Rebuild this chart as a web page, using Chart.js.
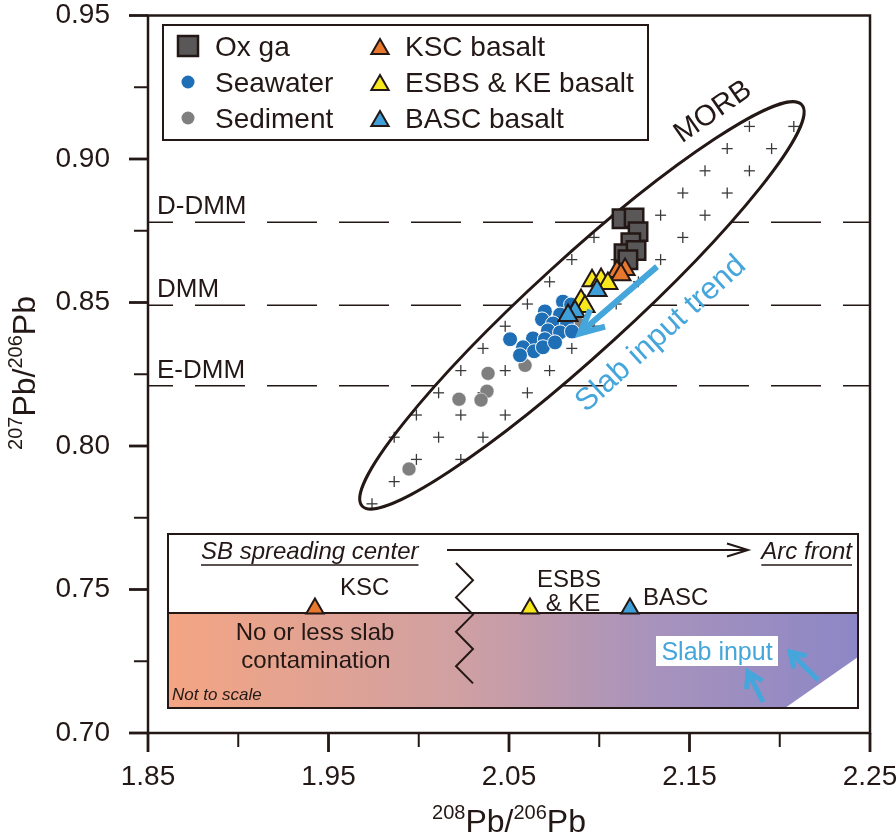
<!DOCTYPE html>
<html>
<head>
<meta charset="utf-8">
<script src="https://cdn.jsdelivr.net/npm/chart.js@4.4.0/dist/chart.umd.min.js"></script>
<style>
  html, body { margin: 0; padding: 0; background: #fff; }
  #wrap { width: 896px; height: 839px; position: relative; }
</style>
</head>
<body>
<div id="wrap"><canvas id="chart"></canvas></div>
<script>
// 208Pb/206Pb (x) and 207Pb/206Pb (y)
const oxgaX = [2.1126, 2.1193, 2.1215, 2.1175, 2.1137, 2.1204, 2.1159];
const oxgaY = [0.8792, 0.8795, 0.8747, 0.8708, 0.8670, 0.8681, 0.8649];

const seawaterX = [2.0799, 2.0844, 2.0699, 2.0783, 2.0683, 2.0744, 2.0821, 2.0716, 2.0783,
                   2.0849, 2.0633, 2.0699, 2.0506, 2.0578, 2.0639, 2.0561, 2.0688, 2.0755];
const seawaterY = [0.8503, 0.8493, 0.8469, 0.8458, 0.8441, 0.8427, 0.8424, 0.8403, 0.8396,
                   0.8399, 0.8375, 0.8372, 0.8372, 0.8344, 0.8330, 0.8316, 0.8344, 0.8361];

const sedimentX = [2.0882, 2.0589, 2.0384, 2.0378, 2.0345, 2.0223, 1.9946];
const sedimentY = [0.8427, 0.8281, 0.8253, 0.8191, 0.8160, 0.8163, 0.7920];

const kscX = [2.1098, 2.1143, 2.1120];
const kscY = [0.8608, 0.8615, 0.8597];

const esbsX = [2.0960, 2.1010, 2.1048, 2.0899, 2.0921];
const esbsY = [0.8576, 0.8580, 0.8566, 0.8507, 0.8486];

const bascX = [2.0988, 2.0866, 2.0827];
const bascY = [0.8542, 0.8469, 0.8455];

// mantle reference lines
const refNames = ['D-DMM', 'DMM', 'E-DMM'];
const refValues = [0.878, 0.849, 0.821];

// MORB field: centre, end of long axis, end of short axis
const morbCenter = [2.0904, 0.8490];
const morbMajorEnd = [2.2122, 0.9189];
const morbMinorEnd = [2.1081, 0.8369];
const morbCrossAnchor = [2.0356, 0.8340];

// slab input trend arrow (from, to)
const trendFrom = [2.1320, 0.8625];
const trendTo = [2.0893, 0.8392];

// schematic sites in the inset
const insetNames = ['KSC', 'ESBS & KE', 'BASC'];
const insetX = [1.9425, 2.0616, 2.1170];
const insetY = [0.7434, 0.7434, 0.7434];

const xTicks = ['1.85', '1.95', '2.05', '2.15', '2.25'];
const yTicks = ['0.70', '0.75', '0.80', '0.85', '0.90', '0.95'];

const INK = '#231815';
const FONT = '"Liberation Sans", Arial, sans-serif';
const ORANGE = '#E8782D';
const YELLOW = '#F6E81C';
const BLUE_T = '#3E9FD9';
const SLAB = '#45A6DB';

function pts(xs, ys) { return xs.map((x, i) => ({ x: x, y: ys[i] })); }

function line(ctx, x1, y1, x2, y2) {
  ctx.beginPath(); ctx.moveTo(x1, y1); ctx.lineTo(x2, y2); ctx.stroke();
}

function tri(ctx, x, y, r) {
  ctx.beginPath();
  ctx.moveTo(x, y - r);
  ctx.lineTo(x + r * 0.866, y + r / 2);
  ctx.lineTo(x - r * 0.866, y + r / 2);
  ctx.closePath();
}

function supText(ctx, parts, x, y, size) {
  const big = size + 'px ' + FONT, small = Math.round(size * 0.64) + 'px ' + FONT;
  let w = 0;
  parts.forEach(p => { ctx.font = p.sup ? small : big; w += ctx.measureText(p.t).width; });
  let cx = x - w / 2;
  ctx.textAlign = 'left';
  ctx.textBaseline = 'alphabetic';
  parts.forEach(p => {
    ctx.font = p.sup ? small : big;
    ctx.fillText(p.t, cx, p.sup ? y - size * 0.4 : y);
    cx += ctx.measureText(p.t).width;
  });
}

function arrowHead(ctx, x1, y1, x2, y2, len, ang) {
  const a = Math.atan2(y2 - y1, x2 - x1);
  ctx.beginPath();
  ctx.moveTo(x2 - len * Math.cos(a - ang), y2 - len * Math.sin(a - ang));
  ctx.lineTo(x2, y2);
  ctx.lineTo(x2 - len * Math.cos(a + ang), y2 - len * Math.sin(a + ang));
  ctx.stroke();
}

function noPad(s) {
  s.paddingLeft = 0; s.paddingRight = 0; s.paddingTop = 0; s.paddingBottom = 0;
}

const overlay = {
  id: 'overlay',
  beforeDatasetsDraw(chart) {
    const ctx = chart.ctx, xs = chart.scales.x, ys = chart.scales.y, area = chart.chartArea;
    ctx.save();

    // dashed mantle lines
    ctx.strokeStyle = INK; ctx.lineWidth = 1.5;
    ctx.setLineDash([50, 22]); ctx.lineDashOffset = 25;
    refValues.forEach(v => { const y = ys.getPixelForValue(v); line(ctx, area.left, y, area.right, y); });
    ctx.setLineDash([]);
    ctx.fillStyle = INK; ctx.font = '26px ' + FONT; ctx.textAlign = 'left'; ctx.textBaseline = 'alphabetic';
    refValues.forEach((v, i) => ctx.fillText(refNames[i], area.left + 9, ys.getPixelForValue(v) - 8));

    // MORB ellipse
    const cx = xs.getPixelForValue(morbCenter[0]), cy = ys.getPixelForValue(morbCenter[1]);
    const mx = xs.getPixelForValue(morbMajorEnd[0]), my = ys.getPixelForValue(morbMajorEnd[1]);
    const nx = xs.getPixelForValue(morbMinorEnd[0]), ny = ys.getPixelForValue(morbMinorEnd[1]);
    const a = Math.hypot(mx - cx, my - cy);
    const rot = Math.atan2(my - cy, mx - cx);
    const ux = (mx - cx) / a, uy = (my - cy) / a;
    const b = Math.abs((nx - cx) * -uy + (ny - cy) * ux);
    ctx.beginPath(); ctx.ellipse(cx, cy, a, b, rot, 0, Math.PI * 2);
    ctx.fillStyle = '#fff'; ctx.fill();

    // cross hatching of the field
    const ax = xs.getPixelForValue(morbCrossAnchor[0]), ay = ys.getPixelForValue(morbCrossAnchor[1]);
    const step = 22.2;
    ctx.strokeStyle = '#3a3a3a'; ctx.lineWidth = 1.3;
    for (let i = -25; i <= 25; i++) {
      for (let j = -25; j <= 25; j++) {
        if ((i + j) % 2 !== 0) continue;
        const px = ax + i * step, py = ay + j * step;
        const du = (px - cx) * Math.cos(rot) + (py - cy) * Math.sin(rot);
        const dv = -(px - cx) * Math.sin(rot) + (py - cy) * Math.cos(rot);
        if ((du / a) ** 2 + (dv / b) ** 2 > 0.99) continue;
        line(ctx, px - 5.5, py, px + 5.5, py);
        line(ctx, px, py - 5.5, px, py + 5.5);
      }
    }
    ctx.beginPath(); ctx.ellipse(cx, cy, a, b, rot, 0, Math.PI * 2);
    ctx.strokeStyle = INK; ctx.lineWidth = 3; ctx.stroke();

    ctx.save();
    ctx.translate(713, 112); ctx.rotate(-35 * Math.PI / 180);
    ctx.fillStyle = INK; ctx.font = '29px ' + FONT; ctx.textAlign = 'center'; ctx.textBaseline = 'middle';
    ctx.fillText('MORB', 0, 0);
    ctx.restore();

    // inset panel
    const L = 168, R = 858, T = 534, D = 613, B = 708;
    ctx.fillStyle = '#fff'; ctx.fillRect(L, T, R - L, B - T);
    const g = ctx.createLinearGradient(L, 0, R, 0);
    g.addColorStop(0, '#F4A583'); g.addColorStop(0.42, '#D0A0A2');
    g.addColorStop(0.7, '#A893BC'); g.addColorStop(1, '#8C87C6');
    ctx.fillStyle = g;
    ctx.beginPath(); ctx.moveTo(L, D); ctx.lineTo(R, D); ctx.lineTo(R, 657); ctx.lineTo(785, B); ctx.lineTo(L, B);
    ctx.closePath(); ctx.fill();
    ctx.strokeStyle = INK; ctx.lineWidth = 2;
    ctx.strokeRect(L, T, R - L, B - T);
    line(ctx, L, D, R, D);

    ctx.fillStyle = INK; ctx.textBaseline = 'alphabetic';
    ctx.font = 'italic 24px ' + FONT; ctx.textAlign = 'left';
    ctx.fillText('SB spreading center', 201, 559);
    let w = ctx.measureText('SB spreading center').width;
    ctx.lineWidth = 1.5; line(ctx, 201, 565, 201 + w, 565);
    ctx.textAlign = 'right';
    ctx.fillText('Arc front', 852, 559);
    w = ctx.measureText('Arc front').width;
    line(ctx, 852 - w, 565, 852, 565);
    ctx.lineWidth = 2;
    line(ctx, 447, 550, 748, 550);
    arrowHead(ctx, 447, 550, 748, 550, 22, 0.3);

    // zigzag break
    ctx.beginPath();
    for (let k = 0; k <= 7; k++) {
      const zx = k % 2 === 0 ? 456 : 473, zy = 563 + k * 17.2;
      if (k === 0) ctx.moveTo(zx, zy); else ctx.lineTo(zx, zy);
    }
    ctx.stroke();

    ctx.font = '24px ' + FONT; ctx.textAlign = 'left';
    ctx.fillText(insetNames[0], 340, 595);
    ctx.textAlign = 'center';
    ctx.fillText('ESBS', 569, 587);
    ctx.fillText('& KE', 573, 611);
    ctx.textAlign = 'left';
    ctx.fillText(insetNames[2], 643, 605);
    ctx.textAlign = 'center';
    ctx.fillText('No or less slab', 315, 640);
    ctx.fillText('contamination', 316, 668);
    ctx.textAlign = 'left';
    ctx.font = 'italic 17px ' + FONT;
    ctx.fillText('Not to scale', 172, 700);

    ctx.fillStyle = '#fff'; ctx.fillRect(656, 636, 122, 30);
    ctx.fillStyle = SLAB; ctx.font = '25px ' + FONT; ctx.textAlign = 'center';
    ctx.fillText('Slab input', 717, 660);
    ctx.strokeStyle = SLAB; ctx.lineWidth = 5; ctx.lineCap = 'butt';
    [[763, 702, 748, 672], [818, 680, 790, 652]].forEach(s => {
      line(ctx, s[0], s[1], s[2], s[3]);
      arrowHead(ctx, s[0], s[1], s[2], s[3], 17, 0.55);
    });
    ctx.restore();
  },
  afterDatasetsDraw(chart) {
    const ctx = chart.ctx, xs = chart.scales.x, ys = chart.scales.y, area = chart.chartArea;
    ctx.save();

    // slab input trend
    const x1 = xs.getPixelForValue(trendFrom[0]), y1 = ys.getPixelForValue(trendFrom[1]);
    const x2 = xs.getPixelForValue(trendTo[0]), y2 = ys.getPixelForValue(trendTo[1]);
    ctx.strokeStyle = SLAB; ctx.lineWidth = 6; ctx.lineJoin = 'miter';
    line(ctx, x1, y1, x2 + 4, y2 - 4);
    arrowHead(ctx, x1, y1, x2, y2, 26, 0.45);
    ctx.save();
    ctx.translate(661, 334); ctx.rotate(-42 * Math.PI / 180);
    ctx.fillStyle = SLAB; ctx.font = '31px ' + FONT; ctx.textAlign = 'center'; ctx.textBaseline = 'middle';
    ctx.fillText('Slab input trend', 0, 0);
    ctx.restore();

    // legend
    const LL = 163, LT = 25, LR = 648, LB = 140;
    ctx.fillStyle = '#fff'; ctx.fillRect(LL, LT, LR - LL, LB - LT);
    ctx.strokeStyle = INK; ctx.lineWidth = 2; ctx.strokeRect(LL, LT, LR - LL, LB - LT);
    const rows = [46, 82, 118];
    const dsets = chart.data.datasets;
    const colA = [0, 4, 5], colB = [1, 2, 3];
    ctx.font = '28px ' + FONT; ctx.textAlign = 'left'; ctx.textBaseline = 'alphabetic';
    colA.forEach((di, r) => {
      const d = dsets[di], y = rows[r];
      if (d.pointStyle === 'rect') {
        ctx.fillStyle = d.backgroundColor; ctx.fillRect(178, y - 10, 20, 20);
        ctx.strokeStyle = INK; ctx.lineWidth = 2.5; ctx.strokeRect(178, y - 10, 20, 20);
      } else {
        ctx.beginPath(); ctx.arc(188, y, 6.5, 0, Math.PI * 2); ctx.fillStyle = d.backgroundColor; ctx.fill();
      }
      ctx.fillStyle = INK; ctx.fillText(d.label, 215, y + 10);
    });
    colB.forEach((di, r) => {
      const d = dsets[di], y = rows[r];
      tri(ctx, 380, y + 3, 10); ctx.fillStyle = d.backgroundColor; ctx.fill();
      ctx.strokeStyle = INK; ctx.lineWidth = 2; ctx.stroke();
      ctx.fillStyle = INK; ctx.fillText(d.label, 405, y + 10);
    });

    // frame and ticks
    ctx.strokeStyle = INK; ctx.lineWidth = 2.5;
    ctx.strokeRect(area.left, area.top, area.right - area.left, area.bottom - area.top);
    xs.ticks.forEach((t, i) => {
      const p = xs.getPixelForValue(t.value), major = i % 2 === 0;
      ctx.lineWidth = major ? 2.8 : 2;
      line(ctx, p, area.bottom, p, area.bottom + (major ? 19 : 14));
    });
    ys.ticks.forEach((t, i) => {
      const p = ys.getPixelForValue(t.value), major = i % 2 === 0;
      ctx.lineWidth = major ? 2.8 : 2;
      line(ctx, area.left, p, area.left - (major ? 19 : 14), p);
    });

    // axis titles
    ctx.fillStyle = INK;
    supText(ctx, [{ t: '208', sup: true }, { t: 'Pb/' }, { t: '206', sup: true }, { t: 'Pb' }],
      (area.left + area.right) / 2, 832, 32);
    ctx.save();
    ctx.translate(35, 373); ctx.rotate(-Math.PI / 2);
    supText(ctx, [{ t: '207', sup: true }, { t: 'Pb/' }, { t: '206', sup: true }, { t: 'Pb' }], 0, 0, 32);
    ctx.restore();
    ctx.restore();
  }
};

const ctx = document.getElementById('chart').getContext('2d');
const chart = new Chart(ctx, {
  type: 'scatter',
  data: {
    datasets: [
      { label: 'Ox ga', data: pts(oxgaX, oxgaY), pointStyle: 'rect', pointRadius: 13,
        backgroundColor: '#595757', borderColor: INK, pointBorderWidth: 2.5, order: 3 },
      { label: 'KSC basalt', data: pts(kscX, kscY), pointStyle: 'triangle', pointRadius: 11,
        backgroundColor: ORANGE, borderColor: INK, pointBorderWidth: 2, order: 2 },
      { label: 'ESBS & KE basalt', data: pts(esbsX, esbsY), pointStyle: 'triangle', pointRadius: 11,
        backgroundColor: YELLOW, borderColor: INK, pointBorderWidth: 2, order: 1 },
      { label: 'BASC basalt', data: pts(bascX, bascY), pointStyle: 'triangle', pointRadius: 11,
        backgroundColor: BLUE_T, borderColor: INK, pointBorderWidth: 2, order: 0 },
      { label: 'Seawater', data: pts(seawaterX, seawaterY), pointStyle: 'circle', pointRadius: 7.5,
        backgroundColor: '#1F6FB6', borderColor: '#fff', pointBorderWidth: 1, order: 4 },
      { label: 'Sediment', data: pts(sedimentX, sedimentY), pointStyle: 'circle', pointRadius: 7,
        backgroundColor: '#7F7F80', borderColor: '#fff', pointBorderWidth: 0.5, order: 5 },
      { label: 'Inset sites', data: pts(insetX, insetY), pointStyle: 'triangle', pointRadius: 10,
        backgroundColor: [ORANGE, YELLOW, BLUE_T], borderColor: INK, pointBorderWidth: 2, order: 6 }
    ]
  },
  options: {
    responsive: true,
    maintainAspectRatio: false,
    animation: false,
    layout: { padding: { top: 13, right: 26, left: 0, bottom: 0 } },
    plugins: { legend: { display: false }, tooltip: { enabled: false } },
    scales: {
      x: {
        type: 'linear', min: 1.85, max: 2.25,
        grid: { display: false }, border: { display: false },
        ticks: {
          stepSize: 0.05, autoSkip: false, maxRotation: 0, padding: 19, color: INK,
          font: { family: FONT, size: 28 },
          callback: (v, i) => (i % 2 === 0 ? xTicks[i / 2] : '')
        },
        afterFit: s => { s.height = 106; noPad(s); }
      },
      y: {
        type: 'linear', min: 0.70, max: 0.95,
        grid: { display: false }, border: { display: false },
        ticks: {
          stepSize: 0.025, autoSkip: false, padding: 30, color: INK,
          font: { family: FONT, size: 28 },
          callback: (v, i) => (i % 2 === 0 ? yTicks[i / 2] : '')
        },
        afterFit: s => { s.width = 148; noPad(s); }
      }
    }
  },
  plugins: [overlay]
});
</script>
</body>
</html>
